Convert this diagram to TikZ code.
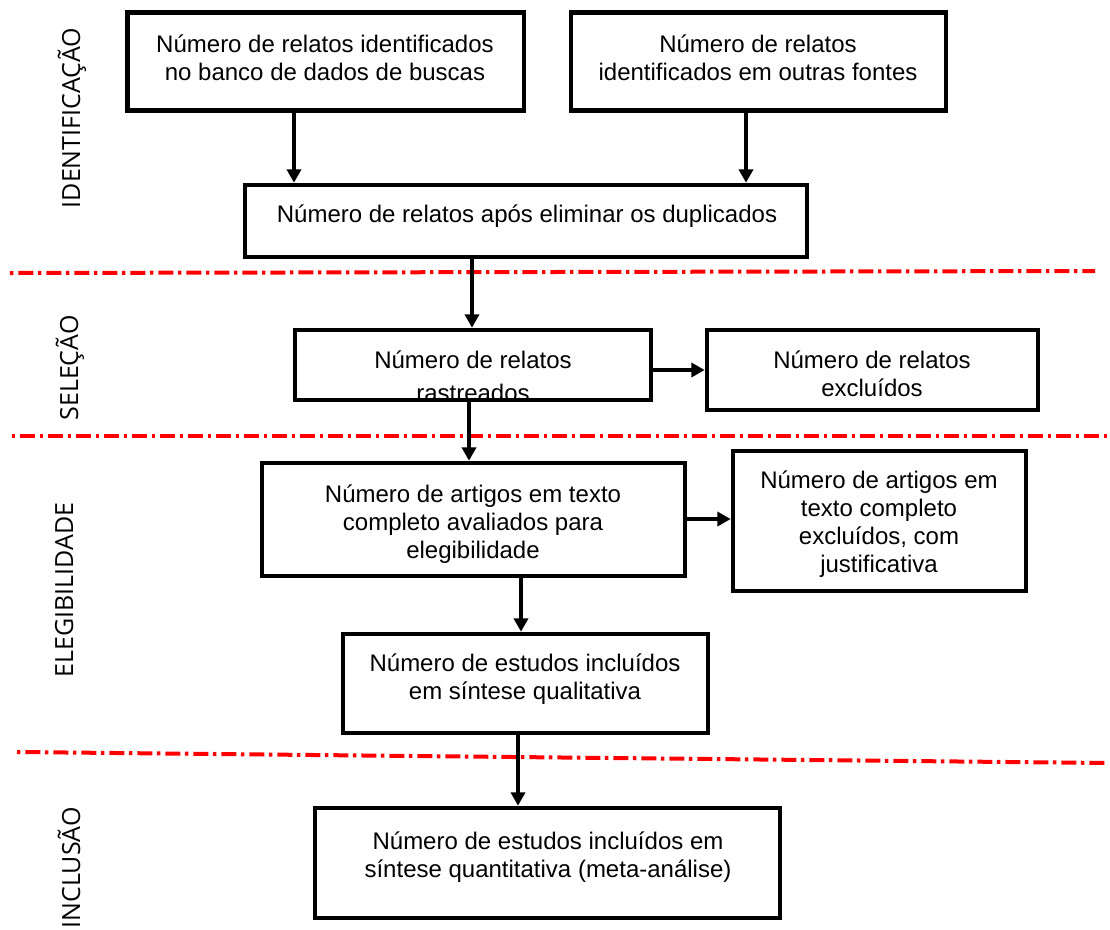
\documentclass[tikz,border=0pt]{standalone}
\usepackage{fontspec}
\setmainfont{Liberation Sans}
\newfontfamily\sidefont{Open Sans}
\usetikzlibrary{arrows.meta}

\tikzset{
  box/.style={draw=black, line width=3.4pt, rectangle, inner sep=0pt},
  txt/.style={align=center, font=\fontsize{18pt}{21pt}\selectfont, inner sep=0pt},
  arr/.style={draw=black, line width=3pt, -{Triangle[length=10pt,width=10.5pt]}},
  stage/.style={rotate=90, anchor=base, inner sep=0pt, font=\sidefont\fontsize{18.75pt}{22pt}\selectfont},
  divider/.style={draw=red, line width=3pt, dash pattern=on 2.6pt off 3.75pt on 11.25pt off 3.4pt}
}

\begin{document}
\begin{tikzpicture}[x=0.75pt, y=-0.75pt]
\useasboundingbox (0,0) rectangle (1110,929);

% stage dividers
\coordinate (d1a) at (10,273);  \coordinate (d1b) at (1095,271);
\coordinate (d2a) at (12,436);  \coordinate (d2b) at (1108,436);
\coordinate (d3a) at (17,752);  \coordinate (d3b) at (1108,763);
\draw[divider] (d1a) -- (d1b);
\draw[divider] (d2a) -- (d2b);
\draw[divider] (d3a) -- (d3b);

% stage labels
\node[stage] (sIdent) at (80,118) {IDENTIFICAÇÃO};
\node[stage] (sSel)   at (78,368) {SELEÇÃO};
\node[stage] (sEleg)  at (73,590) {ELEGIBILIDADE};
\node[stage] (sIncl)  at (80,868) {INCLUSÃO};

% boxes
\node[box, minimum width=297.4pt, minimum height=73.5pt]  (b1) at (325.75,61.5) {};
\node[box, minimum width=281.25pt, minimum height=73.5pt] (b2) at (758.5,61.5) {};
\node[box, minimum width=421.5pt, minimum height=54pt]    (b3) at (526,221) {};
\node[box, minimum width=248.25pt, minimum height=60pt]   (b5) at (872.5,370) {};
\node[box, minimum width=317.25pt, minimum height=84.75pt] (b6) at (473.5,519.5) {};
\node[box, minimum width=219.75pt, minimum height=105pt]  (b7) at (879.5,521) {};
\node[box, minimum width=273.75pt, minimum height=74.25pt] (b8) at (525.5,683.5) {};
\node[box, minimum width=348.75pt, minimum height=82.5pt] (b9) at (547.5,863) {};

% box texts
\node[txt] (t1) at (325,58) {Número de relatos identificados\\no banco de dados de buscas};
\node[txt] (t2) at (758,58) {Número de relatos\\identificados em outras fontes};
\node[txt] (t3) at (527,216) {Número de relatos após eliminar os duplicados};
\node[txt] (t5) at (872,374) {Número de relatos\\excluídos};
\node[txt] (t6) at (473,524.5) {Número de artigos em texto\\completo avaliados para\\elegibilidade};
\node[txt] (t7) at (879,524.5) {Número de artigos em\\texto completo\\excluídos, com\\justificativa};
\node[txt] (t8) at (525,679.5) {Número de estudos incluídos\\em síntese qualitativa};
\node[txt] (t9) at (548,857) {Número de estudos incluídos em\\síntese quantitativa (meta-análise)};

% screening box: its second line runs past the frame and is cut off
\begin{scope}
  \clip (297,332) rectangle (649,397.5);
  \node[txt, font=\fontsize{18pt}{25pt}\selectfont] (t4) at (473,376.3) {Número de relatos\\rastreados};
\end{scope}
\node[box, minimum width=267pt, minimum height=52.5pt] (b4) at (473,365) {};

% connector columns / rows
\coordinate (c1) at (294,0);
\coordinate (c2) at (746,0);
\coordinate (c3) at (472,0);
\coordinate (c4) at (469,0);
\coordinate (c5) at (521,0);
\coordinate (c6) at (518,0);
\coordinate (r1) at (0,370);
\coordinate (r2) at (0,519);

\draw[arr] (b1.south -| c1) -- (b3.north -| c1);
\draw[arr] (b2.south -| c2) -- (b3.north -| c2);
\draw[arr] (b3.south -| c3) -- (b4.north -| c3);
\draw[arr] (b4.east |- r1) -- (b5.west |- r1);
\draw[arr] (b4.south -| c4) -- (b6.north -| c4);
\draw[arr] (b6.east |- r2) -- (b7.west |- r2);
\draw[arr] (b6.south -| c5) -- (b8.north -| c5);
\draw[arr] (b8.south -| c6) -- (b9.north -| c6);
\end{tikzpicture}
\end{document}
